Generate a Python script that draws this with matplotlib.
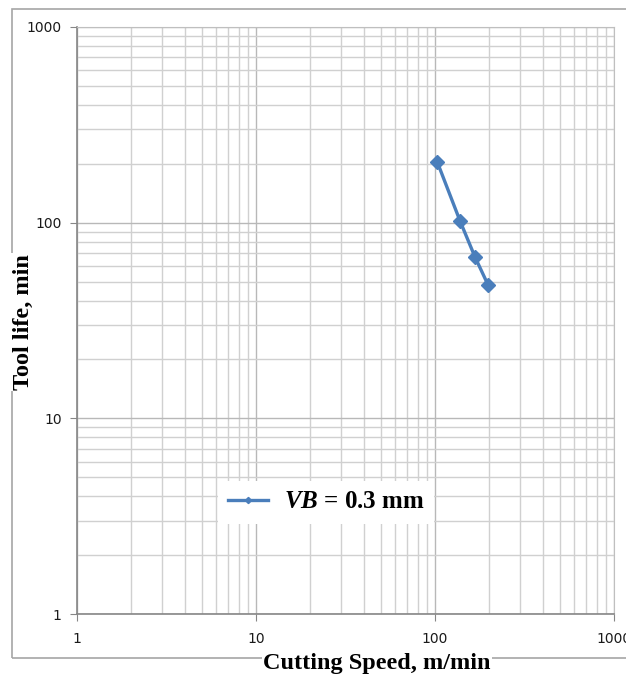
import matplotlib.pyplot as plt
from matplotlib.patches import Rectangle
from matplotlib.ticker import LogLocator, FixedLocator, NullFormatter

# cutting speed (m/min) vs tool life (min)
speed = [103, 138, 167, 198]
tool_life = [204, 102, 67, 48]
series_label = r"$\mathbfit{VB}$ = 0.3 mm"
tick_vals = [1, 10, 100, 1000]
tick_labels = ["1", "10", "100", "1000"]

plt.rcParams['mathtext.fontset'] = 'custom'
plt.rcParams['mathtext.bfit'] = 'Liberation Serif:italic:bold'
plt.rcParams['mathtext.rm'] = 'Liberation Serif:bold'

fig = plt.figure(figsize=(6.26, 6.80), dpi=100)
ax = fig.add_axes([77 / 626, 1 - 614 / 680, 537 / 626, 587 / 680])

# outer chart frame
fig.patches.append(Rectangle((12 / 626, 1 - 658 / 680), 630 / 626, 649 / 680,
                             transform=fig.transFigure, fill=False,
                             edgecolor='#a6a6a6', lw=1.2, zorder=0))

ax.set_xscale('log')
ax.set_yscale('log')
ax.set_xlim(1, 1000)
ax.set_ylim(1, 1000)

ax.xaxis.set_major_locator(FixedLocator(tick_vals))
ax.yaxis.set_major_locator(FixedLocator(tick_vals))
ax.set_xticklabels(tick_labels)
ax.set_yticklabels(tick_labels)
ax.xaxis.set_minor_locator(LogLocator(base=10, subs=range(2, 10)))
ax.yaxis.set_minor_locator(LogLocator(base=10, subs=range(2, 10)))
ax.xaxis.set_minor_formatter(NullFormatter())
ax.yaxis.set_minor_formatter(NullFormatter())

ax.grid(True, which='major', color='#b8b8b8', lw=1.0)
ax.grid(True, which='minor', color='#d0d0d0', lw=1.0)
ax.set_axisbelow(True)
for s in ax.spines.values():
    s.set_color('#bfbfbf')
ax.spines['left'].set_color('#868686')
ax.spines['bottom'].set_color('#868686')
ax.spines['left'].set_linewidth(1.2)
ax.spines['bottom'].set_linewidth(1.2)

ax.tick_params(which='major', length=5, color='#868686', labelsize=10,
               labelcolor='#1a1a1a')
ax.tick_params(which='minor', length=0)
ax.tick_params(axis='x', pad=8)
ax.tick_params(axis='y', pad=6)

ax.plot(speed, tool_life, color='#4a7ebb', lw=2.4, marker='D', ms=7,
        label=series_label, zorder=3)

leg = ax.legend(loc='center', bbox_to_anchor=((326 - 77) / 537, (614 - 502) / 587),
                frameon=True, fancybox=False, framealpha=1,
                prop={'family': 'Liberation Serif', 'weight': 'bold', 'size': 18},
                handlelength=1.6, handletextpad=0.65, markerscale=0.45,
                borderpad=0.4)
leg.get_frame().set_edgecolor('white')
leg.get_frame().set_linewidth(0)

fig.text(377 / 626, 1 - 664 / 680, "Cutting Speed, m/min", family='Liberation Serif',
         weight='bold', fontsize=17.5, ha='center', va='center',
         bbox=dict(facecolor='white', edgecolor='none', pad=1))
fig.text(23 / 626, 1 - 322 / 680, "Tool life, min", family='Liberation Serif',
         weight='bold', fontsize=17.5, ha='center', va='center', rotation=90,
         bbox=dict(facecolor='white', edgecolor='none', pad=1))

fig.savefig('out.png', dpi=100)
